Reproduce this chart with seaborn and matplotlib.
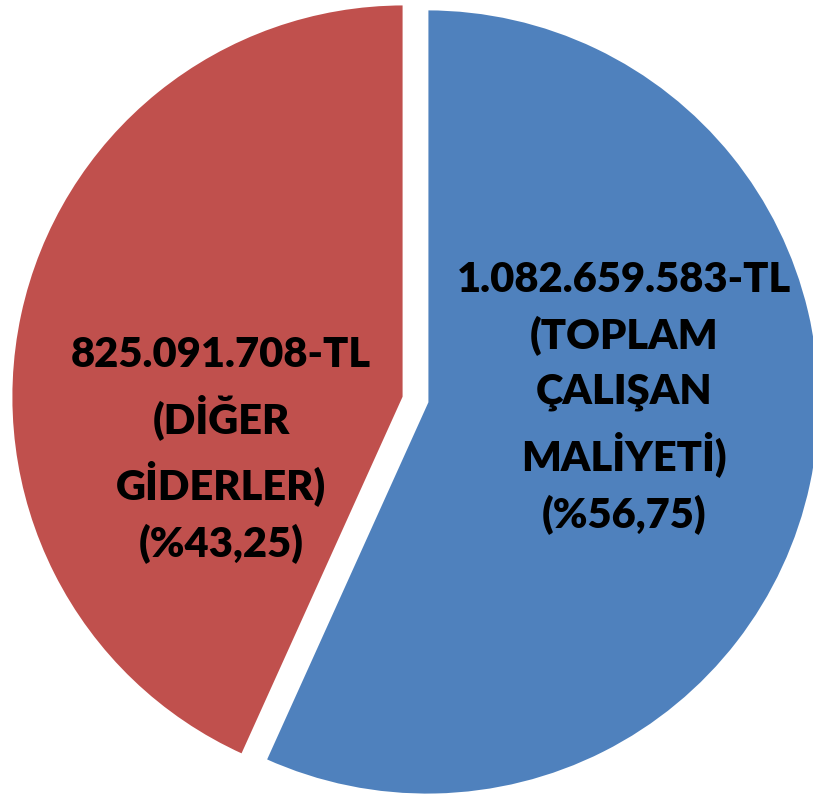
import numpy as np
import matplotlib
matplotlib.use("Agg")
import matplotlib.pyplot as plt
import seaborn as sns

# dilimler: saat yönünde, tepeden başlayarak
kategoriler = ["TOPLAM ÇALIŞAN MALİYETİ", "DİĞER GİDERLER"]
tutarlar = [1082659583, 825091708]
tutar_etiket = ["1.082.659.583-TL", "825.091.708-TL"]
etiketler = ["(TOPLAM\nÇALIŞAN\nMALİYETİ)", "(DİĞER\nGİDERLER)"]
yuzdeler = ["(%56,75)", "(%43,25)"]
renkler = ["#4F81BD", "#C0504D"]

sns.set_theme(style="white")
plt.rcParams["font.family"] = ["Lato", "DejaVu Sans"]

fig = plt.figure(figsize=(8.13, 8.01), dpi=100)
ax = fig.add_axes([0, 0, 1, 1])

wedges, _ = ax.pie(
    tutarlar,
    colors=renkler,
    startangle=90,
    counterclock=False,
    explode=[0.03, 0.03],
    radius=1.0,
    wedgeprops=dict(edgecolor="white", linewidth=2),
)

# etiket konumları (veri koordinatları)
etiket_x = [0.53, -0.495]
etiket_y = [0.004, -0.128]
for i in range(len(tutarlar)):
    metin = tutar_etiket[i] + "\n" + etiketler[i] + "\n" + yuzdeler[i]
    ax.text(etiket_x[i], etiket_y[i], metin, ha="center", va="center",
            fontsize=30, fontweight="heavy", color="black", linespacing=1.52)

ax.set_xlim(-1.0573, 1.0115)
ax.set_ylim(-1.0216, 1.0165)
ax.set_aspect("equal")
ax.axis("off")

fig.savefig("out.png", dpi=100, facecolor="white")
